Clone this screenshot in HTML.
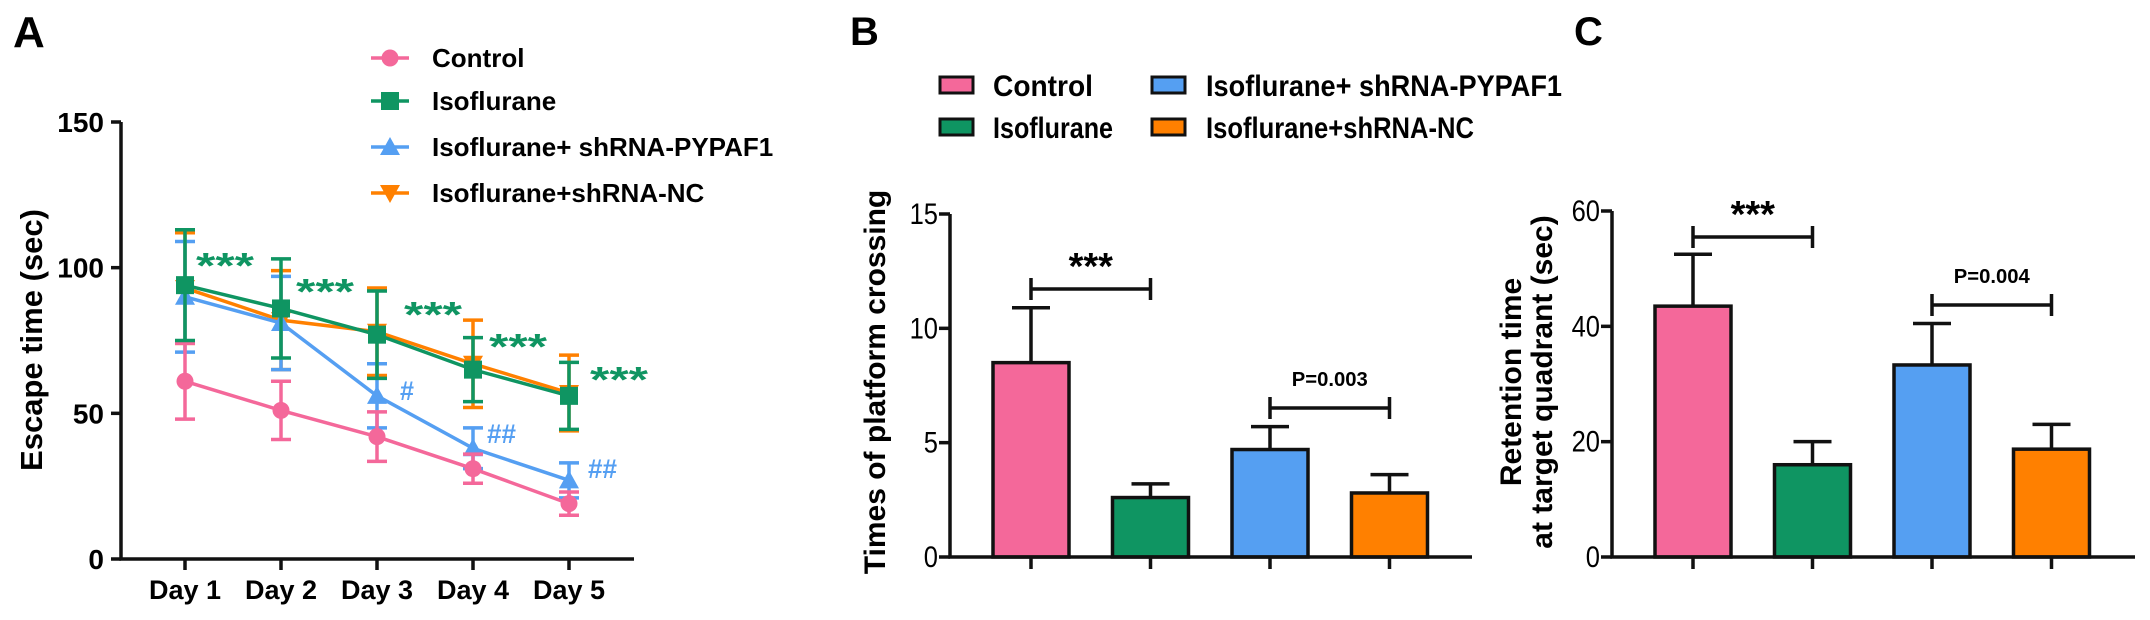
<!DOCTYPE html>
<html><head><meta charset="utf-8"><style>
html,body{margin:0;padding:0;background:#fff;}
svg{display:block;font-family:"Liberation Sans",sans-serif;font-weight:bold;}
</style></head><body>
<svg id="fig" width="2150" height="620" viewBox="0 0 2150 620" xmlns="http://www.w3.org/2000/svg">
<g id="gA"></g>
<g id="gB"></g>
<g id="gC"></g>
</svg>
<script>
// ---- Panel A data ----
const daysA = ["Day 1","Day 2","Day 3","Day 4","Day 5"];
const ticksA = [0,50,100,150];
const controlA = [61,51,42,31,19];
const controlErrA = [13,10,8.5,5,4];
const isoA = [94,86,77,65,56];
const isoErrA = [19,17,15,11,11.5];
const shPyA = [90,81,56,38,27];
const shPyErrA = [19,16,11,7,6];
const shNcA = [93,82,78,67,57];
const shNcErrA = [19,17,15,15,13];
// ---- Panel B data ----
const groups = ["Control","Isoflurane","Isoflurane+ shRNA-PYPAF1","Isoflurane+shRNA-NC"];
const ticksB = [0,5,10,15];
const valuesB = [8.5,2.6,4.7,2.8];
const errB = [2.4,0.6,1.0,0.8];
// ---- Panel C data ----
const ticksC = [0,20,40,60];
const valuesC = [43.5,16,33.3,18.7];
const errC = [9,4,7.2,4.3];

const colors = ["#f4689a","#0f9562","#559ff2","#ff8000"];
const NS = "http://www.w3.org/2000/svg";
function mk(parent, tag, attrs, text){
  const e = document.createElementNS(NS, tag);
  for (const k in attrs) e.setAttribute(k, attrs[k]);
  if (text !== undefined) e.textContent = text;
  parent.appendChild(e);
  return e;
}

// ================= Panel A =================
const gA = document.getElementById('gA');
const yA = v => 559 - v * (437/150);
const xA = i => 185 + i * 96;
let t = mk(gA,'text',{x:13,y:47,'font-size':44},'A');


let ax = mk(gA,'path',{d:`M121 ${yA(150)} V559 H634`,stroke:'#111','stroke-width':3.5,fill:'none'});


ticksA.forEach(v=>{
  mk(gA,'line',{x1:111,x2:121,y1:yA(v),y2:yA(v),stroke:'#111','stroke-width':3.5});
  const l = mk(gA,'text',{x:104,y:yA(v)+10,'font-size':28,'text-anchor':'end'},String(v));
  
  
});
daysA.forEach((d,i)=>{
  mk(gA,'line',{x1:xA(i),x2:xA(i),y1:559,y2:570,stroke:'#111','stroke-width':3.5});
  const l = mk(gA,'text',{x:xA(i),y:599,'font-size':27,'text-anchor':'middle'},d);
  
  
});
t = mk(gA,'text',{x:0,y:0,'font-size':31,'text-anchor':'middle',transform:'translate(42 340) rotate(-90)'},'Escape time (sec)');



function marker(g, shape, cx, cy, col){
  if (shape==='circle') return mk(g,'circle',{cx:cx,cy:cy,r:8.5,fill:col});
  if (shape==='square') return mk(g,'rect',{x:cx-9,y:cy-9,width:18,height:18,fill:col});
  if (shape==='tri') return mk(g,'path',{d:`M${cx} ${cy-10} L${cx+10} ${cy+8} L${cx-10} ${cy+8}Z`,fill:col});
  return mk(g,'path',{d:`M${cx} ${cy+10} L${cx+10} ${cy-8} L${cx-10} ${cy-8}Z`,fill:col});
}
const seriesA = [
  {name:'orange-series',vals:shNcA,err:shNcErrA,col:colors[3],shape:'dtri'},
  {name:'blue-series',vals:shPyA,err:shPyErrA,col:colors[2],shape:'tri'},
  {name:'control-series',vals:controlA,err:controlErrA,col:colors[0],shape:'circle'},
  {name:'isoflurane-series',vals:isoA,err:isoErrA,col:colors[1],shape:'square'}
];
seriesA.forEach(s=>{
  const g = mk(gA,'g',{});
  
  
  s.vals.forEach((v,i)=>{
    const x = xA(i), e = s.err[i];
    mk(g,'path',{d:`M${x} ${yA(v+e)} V${yA(v-e)} M${x-10} ${yA(v+e)} H${x+10} M${x-10} ${yA(v-e)} H${x+10}`,stroke:s.col,'stroke-width':3.5,fill:'none'});
  });
  const pts = s.vals.map((v,i)=>`${xA(i)},${yA(v)}`).join(' ');
  const ln = mk(g,'polyline',{points:pts,stroke:s.col,'stroke-width':3.5,fill:'none'});
  
  
  s.vals.forEach((v,i)=>{
    const m = marker(g,s.shape,xA(i),yA(v),s.col);
    
    
  });
});
// annotations A
const starPosA = [[196,278],[296,304],[404,327],[489,359],[590,392]];
starPosA.forEach(p=>{
  const s = mk(gA,'text',{x:p[0],y:p[1],'font-size':36,fill:colors[1],textLength:58,lengthAdjust:'spacingAndGlyphs'},'***');
  
  
});
const hashPosA = [[400,400,'#',14],[487,443,'##',29],[588,478,'##',29]];
hashPosA.forEach(p=>{
  const s = mk(gA,'text',{x:p[0],y:p[1],'font-size':27,fill:colors[2],textLength:p[3],lengthAdjust:'spacingAndGlyphs'},p[2]);
  
  
});
// legend A
const legA = [[58,colors[0],'circle','Control'],[101,colors[1],'square','Isoflurane'],[147,colors[2],'tri','Isoflurane+ shRNA-PYPAF1'],[193,colors[3],'dtri','Isoflurane+shRNA-NC']];
legA.forEach(r=>{
  const g = mk(gA,'g',{});
  
  
  mk(g,'line',{x1:371,x2:409,y1:r[0],y2:r[0],stroke:r[1],'stroke-width':3.5});
  marker(g,r[2],390,r[0],r[1]);
  mk(g,'text',{x:432,y:r[0]+9,'font-size':26},r[3]);
});

// ================= Bar panels =================
function barPanel(gid, letter, lx, axisX, axisEnd, top, vals, errs, ticks, maxV, tickFS, titleLines, titleX, brackets){
  const g = document.getElementById(gid);
  const y = v => 557 - v * ((557-top)/maxV);
  const bx = i => axisX + 81 + i*119.5;
  let l = mk(g,'text',{x:lx,y:45,'font-size':40},letter);
  
  
  vals.forEach((v,i)=>{
    const x = bx(i);
    mk(g,'path',{d:`M${x} ${y(v)} V${y(v+errs[i])} M${x-19} ${y(v+errs[i])} H${x+19}`,stroke:'#111','stroke-width':3.5,fill:'none'});
    const b = mk(g,'rect',{x:x-38,y:y(v),width:76,height:557-y(v),fill:colors[i],stroke:'#111','stroke-width':3.5});
    
    
    mk(g,'line',{x1:x,x2:x,y1:557,y2:569,stroke:'#111','stroke-width':3.5});
  });
  const a = mk(g,'path',{d:`M${axisX} ${y(maxV)} V557 H${axisEnd}`,stroke:'#111','stroke-width':3.5,fill:'none'});
  
  
  ticks.forEach(v=>{
    mk(g,'line',{x1:axisX-11,x2:axisX,y1:y(v),y2:y(v),stroke:'#111','stroke-width':3.5});
    const tl = mk(g,'text',{x:axisX-12,y:y(v)+10,'font-size':tickFS,'text-anchor':'end','font-weight':'normal',transform:`translate(${axisX-12} 0) scale(0.85 1) translate(${-(axisX-12)} 0)`},String(v));
    
    
  });
  titleLines.forEach((tx,k)=>{
    const tt = mk(g,'text',{x:0,y:0,'font-size':30,'text-anchor':'middle',transform:`translate(${titleX[k]} 382) rotate(-90)`},tx);
    
    
  });
  brackets.forEach(b=>{
    const x1 = bx(b.i), x2 = bx(b.j);
    const br = mk(g,'path',{d:`M${x1} ${b.y-11} V${b.y+11} M${x1} ${b.y} H${x2} M${x2} ${b.y-11} V${b.y+11}`,stroke:'#111','stroke-width':3.5,fill:'none'});
    
    
    const lab = b.label==='***'
      ? mk(g,'text',{x:(x1+x2)/2,y:b.y-10,'font-size':38,'text-anchor':'middle'},'***')
      : mk(g,'text',{x:(x1+x2)/2,y:b.y-22,'font-size':20,'text-anchor':'middle',textLength:76,lengthAdjust:'spacingAndGlyphs'},b.label);
    
    
  });
}
barPanel('gB','B',850,950,1472,214,valuesB,errB,ticksB,15,30,['Times of platform crossing'],[885],
  [{i:0,j:1,y:289,label:'***'},{i:2,j:3,y:408,label:'P=0.003'}]);
barPanel('gC','C',1574,1612,2135,211,valuesC,errC,ticksC,60,30,['Retention time','at target quadrant (sec)'],[1521,1552],
  [{i:0,j:1,y:237,label:'***'},{i:2,j:3,y:305,label:'P=0.004'}]);

// legend B
const gB = document.getElementById('gB');
const legB = [[940,85,0,'Control',993,100],[940,127,1,'Isoflurane',993,120],[1152,85,2,'Isoflurane+ shRNA-PYPAF1',1206,356],[1152,127,3,'Isoflurane+shRNA-NC',1206,268]];
legB.forEach(r=>{
  const g = mk(gB,'g',{});
  
  
  mk(g,'rect',{x:r[0],y:r[1]-8,width:33,height:16,fill:colors[r[2]],stroke:'#111','stroke-width':3});
  mk(g,'text',{x:r[4],y:r[1]+11,'font-size':30,textLength:r[5],lengthAdjust:'spacingAndGlyphs'},r[3]);
});
</script>
</body></html>
